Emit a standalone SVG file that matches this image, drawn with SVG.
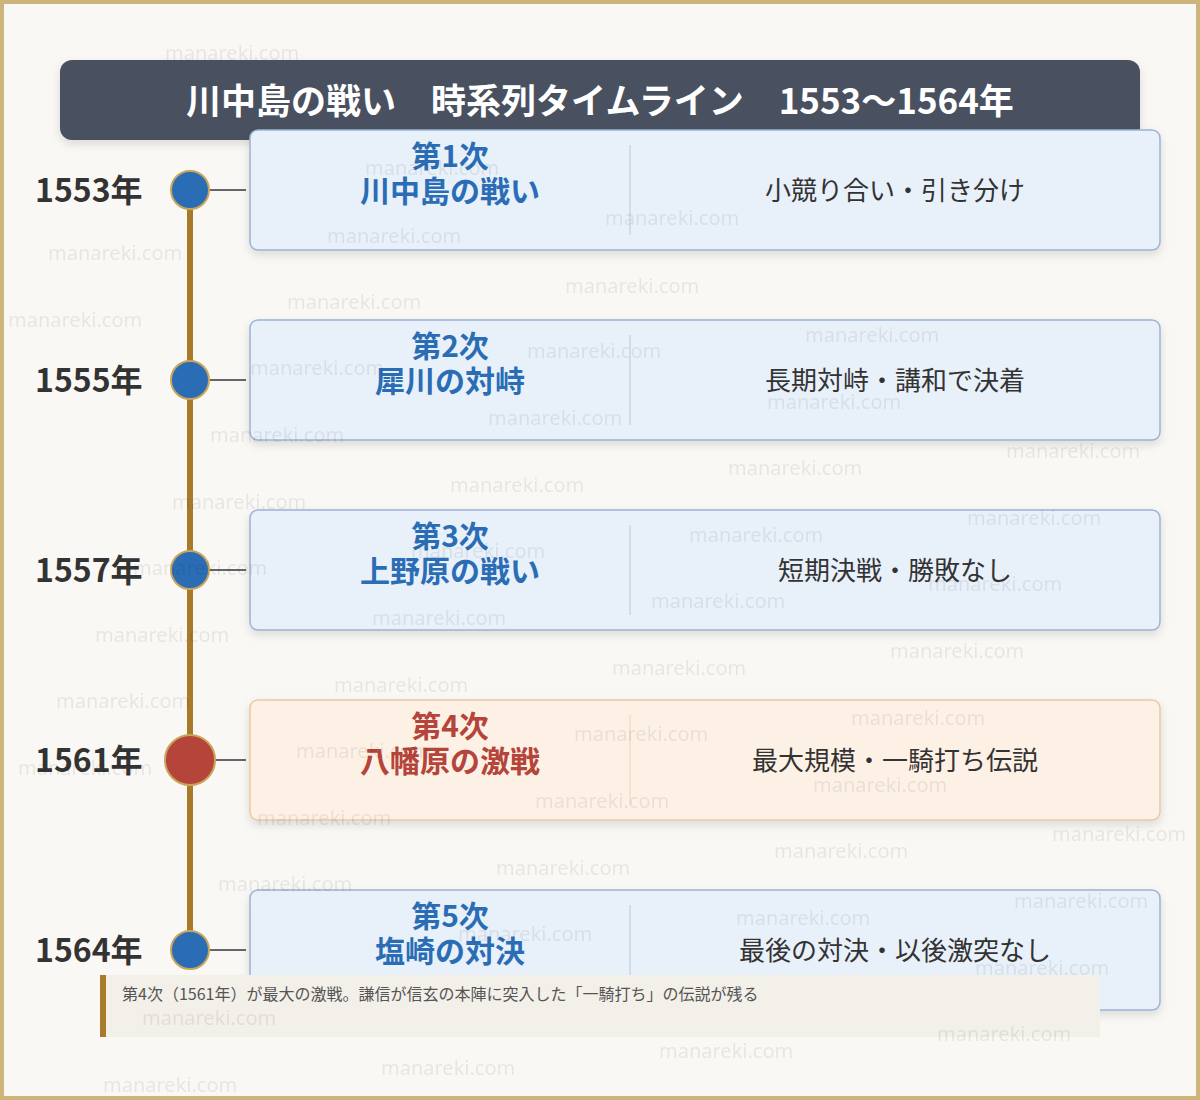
<svg xmlns="http://www.w3.org/2000/svg" width="1200" height="1100" viewBox="0 0 1200 1100">
<style>
.yr{font-family:"Noto Sans CJK JP","Noto Sans",sans-serif;font-weight:700;font-size:32px;fill:#333}
.tt{font-family:"Noto Sans CJK JP",sans-serif;font-weight:700;font-size:30px;text-anchor:middle}
.rt{font-family:"Noto Sans CJK JP",sans-serif;font-size:26px;fill:#333;text-anchor:middle}
.wm{font-family:"Noto Sans","Noto Sans CJK JP",sans-serif;font-size:20px;fill:#000;opacity:0.07}
.cb{fill:#e8f0fa;stroke:#9ab3d6;stroke-width:1.5}
.cr{fill:#fdf1e6;stroke:#e8c9a0;stroke-width:1.5}
.dv{stroke:#b9c8de;stroke-width:1}
.cn{stroke:#666;stroke-width:2}
</style>
<defs>
<filter id="sh" x="-5%" y="-10%" width="110%" height="130%"><feDropShadow dx="0" dy="4" stdDeviation="5" flood-color="#000" flood-opacity="0.12"/></filter>
</defs>
<rect x="0" y="0" width="1200" height="1100" fill="#faf8f4"/>
<rect x="2" y="2" width="1196" height="1096" fill="none" stroke="#cdb47a" stroke-width="4"/>
<g id="title"><rect x="60" y="60" width="1080" height="80" rx="12" fill="#4a5160" filter="url(#sh)"/>
<text x="600" y="114" text-anchor="middle" xml:space="preserve" font-family="Noto Sans CJK JP,sans-serif" font-weight="700" font-size="35" fill="#fff">川中島の戦い　時系列タイムライン　1553〜1564年</text></g>
<g id="connectors">
<line x1="190" y1="190" x2="190" y2="950" stroke="#a87a2a" stroke-width="6"/>
<line class="cn" x1="210" y1="190" x2="246" y2="190"/>
<line class="cn" x1="210" y1="380" x2="246" y2="380"/>
<line class="cn" x1="210" y1="570" x2="246" y2="570"/>
<line class="cn" x1="215" y1="760" x2="246" y2="760"/>
<line class="cn" x1="210" y1="950" x2="246" y2="950"/>
</g>
<g id="e1"><text class="yr" x="35" y="202">1553年</text><circle cx="190" cy="190" r="19" fill="#2a6db5" stroke="#c9a55a" stroke-width="2"/>
<rect class="cb" x="250" y="130" width="910" height="120" rx="8" filter="url(#sh)"/><line class="dv" x1="630" y1="145" x2="630" y2="235"/>
<text class="tt" fill="#2a6db5" x="450" y="167">第1次</text><text class="tt" fill="#2a6db5" x="450" y="202">川中島の戦い</text><text class="rt" x="895" y="200">小競り合い・引き分け</text></g>
<g id="e2"><text class="yr" x="35" y="392">1555年</text><circle cx="190" cy="380" r="19" fill="#2a6db5" stroke="#c9a55a" stroke-width="2"/>
<rect class="cb" x="250" y="320" width="910" height="120" rx="8" filter="url(#sh)"/><line class="dv" x1="630" y1="335" x2="630" y2="425"/>
<text class="tt" fill="#2a6db5" x="450" y="357">第2次</text><text class="tt" fill="#2a6db5" x="450" y="392">犀川の対峙</text><text class="rt" x="895" y="390">長期対峙・講和で決着</text></g>
<g id="e3"><text class="yr" x="35" y="582">1557年</text><circle cx="190" cy="570" r="19" fill="#2a6db5" stroke="#c9a55a" stroke-width="2"/>
<rect class="cb" x="250" y="510" width="910" height="120" rx="8" filter="url(#sh)"/><line class="dv" x1="630" y1="525" x2="630" y2="615"/>
<text class="tt" fill="#2a6db5" x="450" y="547">第3次</text><text class="tt" fill="#2a6db5" x="450" y="582">上野原の戦い</text><text class="rt" x="895" y="580">短期決戦・勝敗なし</text></g>
<g id="e4"><text class="yr" x="35" y="772">1561年</text><circle cx="190" cy="760" r="25" fill="#b5443a" stroke="#c9a55a" stroke-width="2"/>
<rect class="cr" x="250" y="700" width="910" height="120" rx="8" filter="url(#sh)"/><line x1="630" y1="715" x2="630" y2="805" stroke="#ecd6bb"/>
<text class="tt" fill="#b5443a" x="450" y="737">第4次</text><text class="tt" fill="#b5443a" x="450" y="772">八幡原の激戦</text><text class="rt" x="895" y="770">最大規模・一騎打ち伝説</text></g>
<g id="e5"><text class="yr" x="35" y="962">1564年</text><circle cx="190" cy="950" r="19" fill="#2a6db5" stroke="#c9a55a" stroke-width="2"/>
<rect class="cb" x="250" y="890" width="910" height="120" rx="8" filter="url(#sh)"/><line class="dv" x1="630" y1="905" x2="630" y2="995"/>
<text class="tt" fill="#2a6db5" x="450" y="927">第5次</text><text class="tt" fill="#2a6db5" x="450" y="962">塩崎の対決</text><text class="rt" x="895" y="960">最後の対決・以後激突なし</text></g>
<g id="note"><rect x="100" y="975" width="1000" height="62" fill="#f3efe9"/><rect x="100" y="975" width="6" height="62" fill="#a87a2a"/>
<text x="122" y="1000" font-family="Noto Sans CJK JP,sans-serif" font-size="16" fill="#555">第4次（1561年）が最大の激戦。謙信が信玄の本陣に突入した「一騎打ち」の伝説が残る</text></g>
<g id="watermarks">
<text class="wm" x="165" y="60">manareki.com</text>
<text class="wm" x="365" y="175">manareki.com</text><text class="wm" x="605" y="225">manareki.com</text>
<text class="wm" x="327" y="243">manareki.com</text><text class="wm" x="48" y="260">manareki.com</text>
<text class="wm" x="565" y="293">manareki.com</text><text class="wm" x="287" y="309">manareki.com</text>
<text class="wm" x="8" y="327">manareki.com</text><text class="wm" x="805" y="342">manareki.com</text>
<text class="wm" x="527" y="358">manareki.com</text><text class="wm" x="250" y="375">manareki.com</text>
<text class="wm" x="767" y="409">manareki.com</text><text class="wm" x="488" y="425">manareki.com</text>
<text class="wm" x="210" y="442">manareki.com</text><text class="wm" x="1006" y="458">manareki.com</text>
<text class="wm" x="728" y="475">manareki.com</text><text class="wm" x="450" y="492">manareki.com</text>
<text class="wm" x="172" y="509">manareki.com</text><text class="wm" x="967" y="525">manareki.com</text>
<text class="wm" x="689" y="542">manareki.com</text><text class="wm" x="411" y="558">manareki.com</text>
<text class="wm" x="133" y="575">manareki.com</text><text class="wm" x="928" y="591">manareki.com</text>
<text class="wm" x="651" y="608">manareki.com</text><text class="wm" x="372" y="625">manareki.com</text>
<text class="wm" x="95" y="642">manareki.com</text><text class="wm" x="890" y="658">manareki.com</text>
<text class="wm" x="612" y="675">manareki.com</text><text class="wm" x="334" y="692">manareki.com</text>
<text class="wm" x="56" y="708">manareki.com</text><text class="wm" x="851" y="725">manareki.com</text>
<text class="wm" x="574" y="741">manareki.com</text><text class="wm" x="296" y="758">manareki.com</text>
<text class="wm" x="18" y="775">manareki.com</text><text class="wm" x="813" y="792">manareki.com</text>
<text class="wm" x="535" y="808">manareki.com</text><text class="wm" x="257" y="825">manareki.com</text>
<text class="wm" x="1052" y="841">manareki.com</text><text class="wm" x="774" y="858">manareki.com</text>
<text class="wm" x="496" y="875">manareki.com</text><text class="wm" x="218" y="891">manareki.com</text>
<text class="wm" x="1014" y="908">manareki.com</text><text class="wm" x="736" y="925">manareki.com</text>
<text class="wm" x="458" y="941">manareki.com</text><text class="wm" x="975" y="975">manareki.com</text>
<text class="wm" x="142" y="1025">manareki.com</text><text class="wm" x="937" y="1041">manareki.com</text>
<text class="wm" x="659" y="1058">manareki.com</text><text class="wm" x="381" y="1075">manareki.com</text>
<text class="wm" x="103" y="1092">manareki.com</text>
</g>
</svg>
